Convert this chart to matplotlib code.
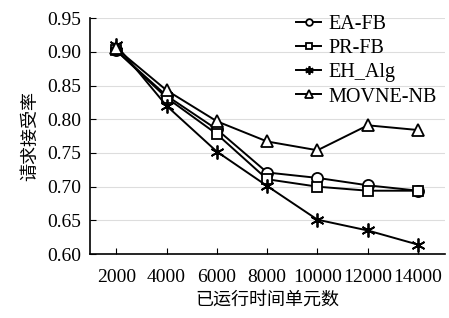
import matplotlib.pyplot as plt

plt.rcParams['font.family'] = ['Liberation Serif', 'Noto Sans CJK SC']

# data
time_units = [2000, 4000, 6000, 8000, 10000, 12000, 14000]
ea_fb = [0.902, 0.835, 0.785, 0.721, 0.713, 0.702, 0.694]
pr_fb = [0.902, 0.832, 0.778, 0.711, 0.700, 0.694, 0.694]
eh_alg = [0.910, 0.820, 0.752, 0.701, 0.651, 0.635, 0.614]
movne_nb = [0.905, 0.843, 0.797, 0.767, 0.754, 0.791, 0.784]
y_ticks = [0.60, 0.65, 0.70, 0.75, 0.80, 0.85, 0.90, 0.95]

fig = plt.figure(figsize=(4.49, 3.18), dpi=100)
ax = fig.add_axes([0.2, 0.201, 0.79, 0.742])

common = dict(color="black", linewidth=1.4, markerfacecolor="white",
              markeredgecolor="black", markeredgewidth=1.3)
ax.plot(time_units, ea_fb, marker="o", markersize=8, label="EA-FB", **common)
ax.plot(time_units, pr_fb, marker="s", markersize=7, label="PR-FB", **common)
ax.plot(time_units, eh_alg, marker=(6, 2, 0), markersize=10, label="EH_Alg", **common)
ax.plot(time_units, movne_nb, marker="^", markersize=9, label="MOVNE-NB", **common)

ax.set_xlim(950, 15050)
ax.set_ylim(0.60, 0.95)
ax.set_xticks(time_units)
ax.set_yticks(y_ticks)
ax.set_yticklabels([f"{v:.2f}" for v in y_ticks])
ax.grid(axis="y", color="#dddddd", linewidth=0.8)
ax.set_axisbelow(True)
ax.tick_params(axis="both", direction="in", labelsize=14, length=4)
ax.tick_params(axis="x", pad=11)
ax.tick_params(axis="y", pad=6)
for side in ["top", "right"]:
    ax.spines[side].set_visible(False)
ax.spines["left"].set_linewidth(1.2)
ax.spines["bottom"].set_linewidth(1.2)

ax.set_xlabel("已运行时间单元数", fontsize=13, labelpad=4)
ax.set_ylabel("请求接受率", fontsize=13, labelpad=6)

ax.legend(loc="upper right", bbox_to_anchor=(1.03, 1.09), frameon=False,
          fontsize=14.5, handlelength=1.2, handletextpad=0.4, labelspacing=0.25,
          markerscale=0.6)

fig.savefig("out.png", dpi=100)
